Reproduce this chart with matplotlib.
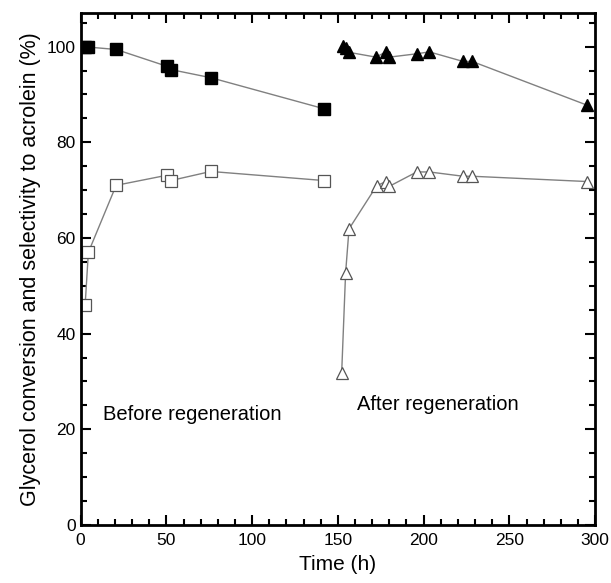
#!/usr/bin/env python3

import matplotlib
matplotlib.use('Agg')
import matplotlib.pyplot as plt
from matplotlib.ticker import MultipleLocator

# before regeneration
t_before = [2.6, 4.5, 20.7, 50.2, 52.6, 75.9, 142]
conv_before = [99.9, 99.9, 99.4, 95.9, 95.2, 93.5, 87.0]
t_sel_before = [2.6, 4.5, 20.7, 50.2, 52.6, 75.9, 142]
sel_before = [45.9, 57.0, 71.0, 73.1, 72.0, 73.9, 72.0]

# after regeneration
t_after = [152.8, 154.7, 156.5, 172.2, 178, 180, 196, 203.3, 223, 228.3, 295]
conv_after = [100.1, 99.7, 98.8, 97.8, 98.9, 97.8, 98.5, 98.9, 96.9, 96.9, 87.8]
t_sel_after = [152.2, 154.5, 156.5, 172.6, 178, 180, 196, 203.3, 223, 228.3, 295]
sel_after = [31.7, 52.7, 61.9, 70.9, 71.8, 70.8, 73.8, 73.8, 72.9, 72.9, 71.8]


def main():
    plt.rcParams['font.family'] = ['Liberation Sans', 'DejaVu Sans']
    fig = plt.figure(figsize=(6.11, 5.83), dpi=100)
    ax = fig.add_axes([0.132, 0.0995, 0.842, 0.878])

    line = dict(color='#808080', lw=1.0)
    ax.plot(t_before, conv_before, marker='s', ms=8, mfc='black',
            mec='black', **line)
    ax.plot(t_sel_before, sel_before, marker='s', ms=8, mfc='white',
            mec='#555555', mew=0.9, **line)
    ax.plot(t_after, conv_after, marker='^', ms=8, mfc='black',
            mec='black', **line)
    ax.plot(t_sel_after, sel_after, marker='^', ms=8, mfc='white',
            mec='#555555', mew=0.9, **line)

    ax.text(13, 22, 'Before regeneration', fontsize=14.5)
    ax.text(161, 24, 'After regeneration', fontsize=14.5)

    ax.set_xlim(0, 300)
    ax.set_ylim(0, 107)
    ax.xaxis.set_major_locator(MultipleLocator(50))
    ax.xaxis.set_minor_locator(MultipleLocator(10))
    ax.yaxis.set_major_locator(MultipleLocator(20))
    ax.yaxis.set_minor_locator(MultipleLocator(5))
    ax.tick_params(which='both', direction='in', top=True, right=True,
                   labelsize=12.5, width=1.5)
    ax.tick_params(which='major', length=7)
    ax.tick_params(which='minor', length=4)
    ax.tick_params(axis='x', pad=6)
    for s in ax.spines.values():
        s.set_linewidth(2)

    ax.set_xlabel('Time (h)', fontsize=15, labelpad=5)
    ax.set_ylabel('Glycerol conversion and selectivity to acrolein (%)',
                  fontsize=15.5, labelpad=4)
    fig.savefig('out.png', dpi=100)


if __name__ == '__main__':
    main()
